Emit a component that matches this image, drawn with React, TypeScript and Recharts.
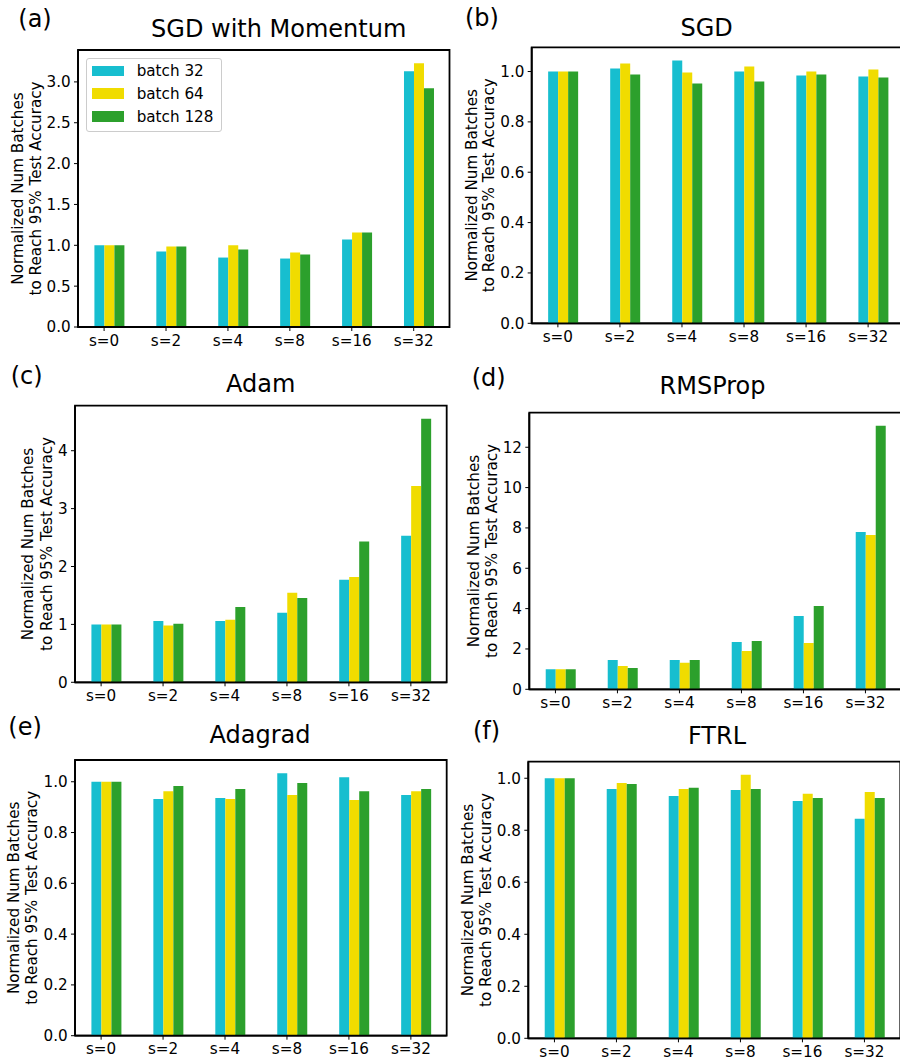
import React from 'react';
import { BarChart, Bar, XAxis, YAxis, Legend, ReferenceArea } from 'recharts';

const categories = ['s=0', 's=2', 's=4', 's=8', 's=16', 's=32'];
const seriesNames = ['batch 32', 'batch 64', 'batch 128'];
const seriesColors = ['#17becf', '#f0dc00', '#2ca02c'];

const momentum32 = [1.0, 0.924, 0.85, 0.838, 1.071, 3.131];
const momentum64 = [1.0, 0.985, 1.0, 0.911, 1.157, 3.229];
const momentum128 = [1.0, 0.985, 0.948, 0.887, 1.157, 2.922];

const sgd32 = [1.0, 1.012, 1.044, 1.0, 0.984, 0.98];
const sgd64 = [1.0, 1.032, 0.996, 1.02, 1.0, 1.008];
const sgd128 = [1.0, 0.988, 0.952, 0.96, 0.988, 0.976];

const adam32 = [1.0, 1.06, 1.06, 1.2, 1.77, 2.53];
const adam64 = [1.0, 0.98, 1.08, 1.545, 1.82, 3.39];
const adam128 = [1.0, 1.01, 1.3, 1.458, 2.43, 4.55];

const rms32 = [1.0, 1.45, 1.45, 2.35, 3.64, 7.8];
const rms64 = [1.0, 1.16, 1.31, 1.9, 2.3, 7.65];
const rms128 = [1.0, 1.06, 1.45, 2.4, 4.13, 13.06];

const adagrad32 = [1.0, 0.932, 0.936, 1.034, 1.018, 0.948];
const adagrad64 = [1.0, 0.963, 0.932, 0.948, 0.928, 0.963];
const adagrad128 = [1.0, 0.983, 0.971, 0.995, 0.963, 0.971];

const ftrl32 = [1.0, 0.959, 0.932, 0.955, 0.913, 0.844];
const ftrl64 = [1.0, 0.982, 0.959, 1.013, 0.94, 0.947];
const ftrl128 = [1.0, 0.978, 0.963, 0.959, 0.924, 0.924];

const momentumTicks = [0, 0.5, 1.0, 1.5, 2.0, 2.5, 3.0];
const unitTicks = [0, 0.2, 0.4, 0.6, 0.8, 1.0];
const adamTicks = [0, 1, 2, 3, 4];
const rmsTicks = [0, 2, 4, 6, 8, 10, 12];

const FONT = 'DejaVu Sans, Liberation Sans, sans-serif';
const TICK_FS = 15.2;

const buildRows = (a: number[], b: number[], c: number[]) =>
  categories.map((cat, i) => ({ cat, b32: a[i], b64: b[i], b128: c[i] }));

type Panel = {
  key: string;
  letter: string;
  title: string;
  rows: any[];
  ticks: number[];
  decimals: number;
  colX: number;
  rowY: number;
  L: number;
  T: number;
  W: number;
  H: number;
  off1: number;
  off2: number;
  legend?: boolean;
  titleX: number;
  titleY: number;
  letterX: number;
  letterY: number;
};

const panels: Panel[] = [
  { key: 'a', letter: '(a)', title: 'SGD with Momentum', rows: buildRows(momentum32, momentum64, momentum128), ticks: momentumTicks, decimals: 1,
    colX: 0, rowY: 0, L: 78, T: 50, W: 371.5, H: 277, off1: 55, off2: 37, legend: true, titleX: 278.7, titleY: 36.7, letterX: 18.3, letterY: 26.5 },
  { key: 'b', letter: '(b)', title: 'SGD', rows: buildRows(sgd32, sgd64, sgd128), ticks: unitTicks, decimals: 1,
    colX: 450, rowY: 0, L: 531.7, T: 47.3, W: 372.3, H: 276, off1: 55, off2: 37.7, titleX: 706.7, titleY: 36, letterX: 465, letterY: 25.5 },
  { key: 'c', letter: '(c)', title: 'Adam', rows: buildRows(adam32, adam64, adam128), ticks: adamTicks, decimals: 0,
    colX: 0, rowY: 360, L: 75, T: 405.7, W: 371.7, H: 276.6, off1: 41.7, off2: 23.3, titleX: 260.7, titleY: 392.3, letterX: 10.7, letterY: 383.5 },
  { key: 'd', letter: '(d)', title: 'RMSProp', rows: buildRows(rms32, rms64, rms128), ticks: rmsTicks, decimals: 0,
    colX: 450, rowY: 360, L: 529.3, T: 412.7, W: 372, H: 276.6, off1: 50, off2: 32.6, titleX: 712.5, titleY: 394.3, letterX: 471.7, letterY: 385.5 },
  { key: 'e', letter: '(e)', title: 'Adagrad', rows: buildRows(adagrad32, adagrad64, adagrad128), ticks: unitTicks, decimals: 1,
    colX: 0, rowY: 710, L: 75, T: 760, W: 371.7, H: 275.7, off1: 55.7, off2: 37.7, titleX: 260, titleY: 742.7, letterX: 8.3, letterY: 734.5 },
  { key: 'f', letter: '(f)', title: 'FTRL', rows: buildRows(ftrl32, ftrl64, ftrl128), ticks: unitTicks, decimals: 1,
    colX: 450, rowY: 710, L: 528.3, T: 761.7, W: 372, H: 276.6, off1: 55, off2: 37.6, titleX: 717, titleY: 744.3, letterX: 473, letterY: 738.5 },
];

const XTick = (props: any) => {
  const { x, y, payload } = props;
  const tx = x - 4.85;
  return (
    <g>
      <line x1={tx} x2={tx} y1={y} y2={y + 4} stroke="#000" strokeWidth={1} />
      <text x={tx} y={y + 18.5} textAnchor="middle" fontSize={TICK_FS} fill="#000" fontFamily={FONT}>
        {payload.value}
      </text>
    </g>
  );
};

const makeYLabel = (p: Panel) => (props: any) => {
  const vb = props && props.viewBox;
  const px = vb && typeof vb.x === 'number' ? vb.x + vb.width : p.L - p.colX;
  const cy = vb && typeof vb.y === 'number' ? vb.y + vb.height / 2 : p.T - p.rowY + p.H / 2;
  return (
    <g>
      <text transform={`translate(${px - p.off1},${cy}) rotate(-90)`} textAnchor="middle" fontSize={TICK_FS} fill="#000" fontFamily={FONT}>
        Normalized Num Batches
      </text>
      <text transform={`translate(${px - p.off2},${cy}) rotate(-90)`} textAnchor="middle" fontSize={TICK_FS} fill="#000" fontFamily={FONT}>
        to Reach 95% Test Accuracy
      </text>
    </g>
  );
};

const LegendBox = (props: any) => {
  const payload = [...(props.payload || [])].sort(
    (a: any, b: any) => seriesNames.indexOf(a.value) - seriesNames.indexOf(b.value)
  );
  return (
    <div
      style={{
        border: '1px solid #cccccc',
        borderRadius: 3,
        background: 'rgba(255,255,255,0.8)',
        padding: '0.5px 4px 2.8px 4.7px',
        boxSizing: 'border-box',
        width: 135.7,
        fontFamily: FONT,
      }}
    >
      {payload.map((entry: any, i: number) => (
        <div key={i} style={{ display: 'flex', alignItems: 'center', height: 22.7 }}>
          <div style={{ width: 32.3, height: 10.7, background: entry.color, marginRight: 12.7 }} />
          <span style={{ fontSize: TICK_FS, color: '#000', whiteSpace: 'nowrap' }}>{entry.value}</span>
        </div>
      ))}
    </div>
  );
};

const PanelChart = ({ p }: { p: Panel }) => {
  const yAxisW = p.L - p.colX;
  const top = p.T - p.rowY;
  const width = yAxisW + p.W + 10;
  const height = top + p.H + 30;
  const allVals = p.rows.flatMap((r) => [r.b32, r.b64, r.b128]);
  const yMax = Math.max(...allVals) * 1.05;
  const fmt = (v: number) => v.toFixed(p.decimals);
  const frame = { stroke: '#000', strokeWidth: 1.8 };
  return (
    <div style={{ position: 'absolute', left: p.colX, top: p.rowY }}>
      <BarChart
        width={width}
        height={height}
        data={p.rows}
        margin={{ top, right: 10, bottom: 0, left: 0 }}
        barCategoryGap="26.5%"
        barGap={0}
      >
        <XAxis
          dataKey="cat"
          type="category"
          height={30}
          axisLine={frame}
          tickLine={false}
          tickSize={0}
          tickMargin={0}
          tick={<XTick />}
          interval={0}
        />
        <YAxis
          type="number"
          domain={[0, yMax]}
          allowDataOverflow
          ticks={p.ticks}
          tickFormatter={fmt}
          width={yAxisW}
          axisLine={frame}
          tickLine={{ stroke: '#000', strokeWidth: 1 }}
          tickSize={4}
          tickMargin={3.3}
          tick={{ fontSize: TICK_FS, fill: '#000', fontFamily: FONT }}
          label={makeYLabel(p)}
          interval={0}
        />
        {p.legend && (
          <Legend
            layout="horizontal"
            verticalAlign="middle"
            align="center"
            wrapperStyle={{ left: 86, top: 58.3, width: 135.7, height: 73.4 }}
            content={<LegendBox />}
          />
        )}
        <Bar dataKey="b32" name={seriesNames[0]} fill={seriesColors[0]} isAnimationActive={false} />
        <Bar dataKey="b64" name={seriesNames[1]} fill={seriesColors[1]} isAnimationActive={false} />
        <Bar dataKey="b128" name={seriesNames[2]} fill={seriesColors[2]} isAnimationActive={false} />
        <ReferenceArea y1={0} y2={yMax} fill="none" fillOpacity={0} stroke="#000" strokeWidth={1.8} ifOverflow="visible" />
      </BarChart>
    </div>
  );
};

export default function App() {
  return (
    <div
      style={{
        position: 'absolute',
        left: 0,
        top: 0,
        width: 900,
        height: 1059,
        overflow: 'hidden',
        background: '#fff',
        fontFamily: FONT,
      }}
    >
      {panels.map((p) => (
        <PanelChart key={p.key} p={p} />
      ))}
      <svg width={900} height={1059} style={{ position: 'absolute', left: 0, top: 0, pointerEvents: 'none' }}>
        {panels.map((p) => (
          <g key={p.key}>
            <text x={p.titleX} y={p.titleY} textAnchor="middle" fontSize={24} fill="#000" fontFamily={FONT}>
              {p.title}
            </text>
            <text x={p.letterX} y={p.letterY} fontSize={24} fill="#000" fontFamily={FONT}>
              {p.letter}
            </text>
          </g>
        ))}
      </svg>
    </div>
  );
}
